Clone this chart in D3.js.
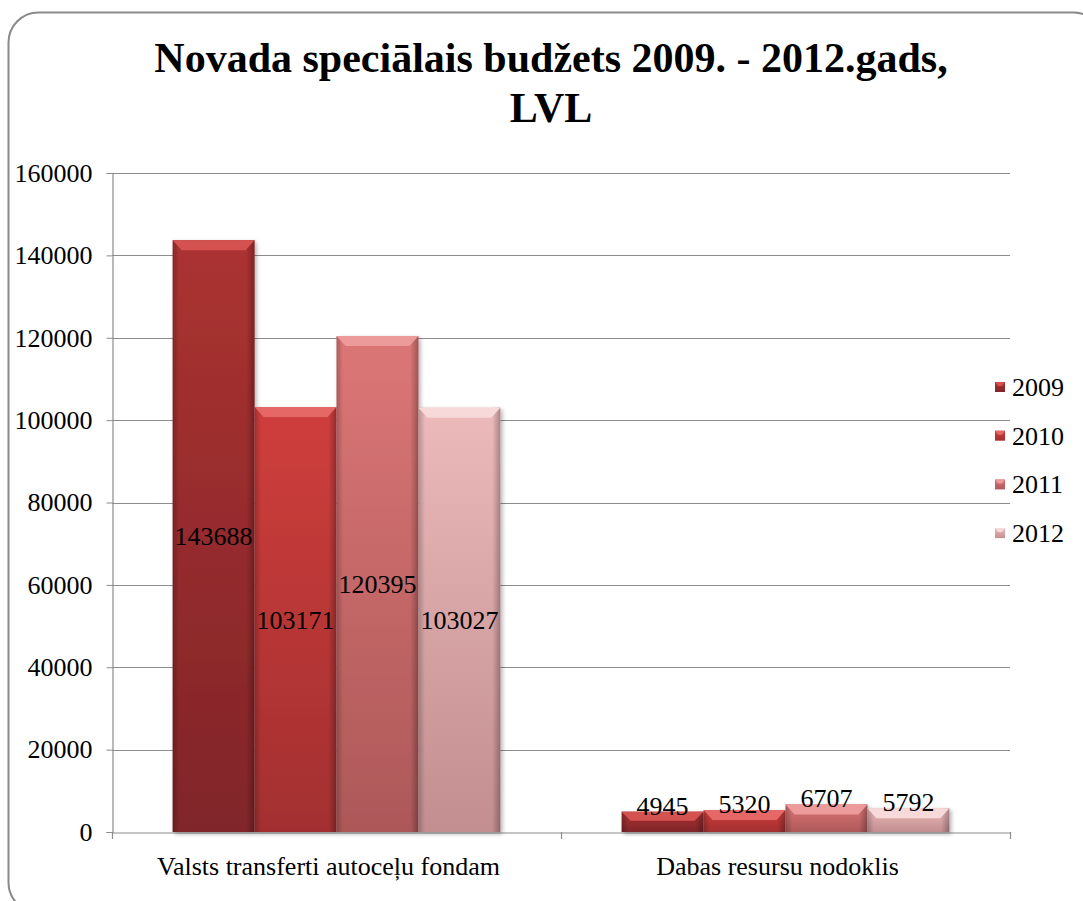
<!DOCTYPE html>
<html>
<head>
<meta charset="utf-8">
<script src="https://cdn.jsdelivr.net/npm/d3@7/dist/d3.min.js"></script>
<style>
  html, body { margin: 0; padding: 0; background: #fff; }
  svg { display: block; }
  svg text { font-family: "Liberation Serif", "Tinos", "Times New Roman", Times, "DejaVu Serif", serif !important; fill: #000; }
</style>
</head>
<body>
<svg id="chart" width="1083" height="901"></svg>
<script>
// ---- data ----
const categories = ["Valsts transferti autoceļu fondam", "Dabas resursu nodoklis"];
const years = ["2009", "2010", "2011", "2012"];
const values2009 = [143688, 4945];
const values2010 = [103171, 5320];
const values2011 = [120395, 6707];
const values2012 = [103027, 5792];
const yTicks = [0, 20000, 40000, 60000, 80000, 100000, 120000, 140000, 160000];
const titleLines = ["Novada speciālais budžets 2009. - 2012.gads,", "LVL"];

const seriesValues = [values2009, values2010, values2011, values2012];
const colors = [
  { top: "#ab3230", bottom: "#80252a", bevel: "#d45250" },
  { top: "#cf3e3c", bottom: "#a32f30", bevel: "#e66866" },
  { top: "#dc7676", bottom: "#ad5859", bevel: "#ec9a9a" },
  { top: "#ecbaba", bottom: "#c28e90", bevel: "#f7d9d9" }
];
const FONT = '"Liberation Serif", "Tinos", "Times New Roman", Times, "DejaVu Serif", serif';

const svg = d3.select("#chart");
const defs = svg.append("defs");

// frame
svg.append("rect")
  .attr("x", 8.5).attr("y", 12.5).attr("width", 1095).attr("height", 900)
  .attr("rx", 30).attr("ry", 30)
  .attr("fill", "#fff").attr("stroke", "#8a8a8a").attr("stroke-width", 2);

// gradients
colors.forEach((c, i) => {
  const g = defs.append("linearGradient").attr("id", "grad" + i)
    .attr("x1", 0).attr("y1", 0).attr("x2", 0).attr("y2", 1);
  g.append("stop").attr("offset", "0%").attr("stop-color", c.top);
  g.append("stop").attr("offset", "100%").attr("stop-color", c.bottom);
});
const side = defs.append("linearGradient").attr("id", "sideShade")
  .attr("x1", 0).attr("y1", 0).attr("x2", 1).attr("y2", 0);
side.append("stop").attr("offset", "0%").attr("stop-color", "#000").attr("stop-opacity", 0.22);
side.append("stop").attr("offset", "8%").attr("stop-color", "#000").attr("stop-opacity", 0.0);
side.append("stop").attr("offset", "90%").attr("stop-color", "#000").attr("stop-opacity", 0.0);
side.append("stop").attr("offset", "100%").attr("stop-color", "#000").attr("stop-opacity", 0.28);
const shadow = defs.append("filter").attr("id", "shadow")
  .attr("x", "-10%").attr("y", "-10%").attr("width", "130%").attr("height", "130%");
shadow.append("feDropShadow").attr("dx", 2).attr("dy", 2).attr("stdDeviation", 2)
  .attr("flood-color", "#000").attr("flood-opacity", 0.3);

// scales
const x = d3.scaleBand().domain(categories).range([112, 1010]).paddingInner(0).paddingOuter(0);
const xs = d3.scaleBand().domain(years).range([0, x.bandwidth()]).paddingInner(0).paddingOuter(0.74);
const y = d3.scaleLinear().domain([0, 160000]).range([832, 173]);

// gridlines
svg.append("g").selectAll("line").data(yTicks.filter(t => t > 0)).join("line")
  .attr("x1", 112).attr("x2", 1010)
  .attr("y1", d => Math.round(y(d)) + 0.5).attr("y2", d => Math.round(y(d)) + 0.5)
  .attr("stroke", "#8c8c8c").attr("stroke-width", 1.2);

// y axis
const yAxis = d3.axisLeft(y).tickValues(yTicks).tickSize(6).tickPadding(14).tickFormat(d3.format("d"));
const gy = svg.append("g").attr("transform", "translate(112.5,0)").call(yAxis)
  .attr("font-family", FONT);
gy.select(".domain").attr("stroke", "#8c8c8c").attr("stroke-width", 1.2);
gy.selectAll(".tick line").attr("stroke", "#8c8c8c");
gy.selectAll(".tick text").attr("font-size", 26).attr("fill", "#000");

// x axis
const gx = svg.append("g").attr("transform", "translate(0,832.5)")
  .call(d3.axisBottom(x).tickSize(0).tickPadding(24))
  .attr("font-family", FONT);
gx.select(".domain").attr("stroke", "#8c8c8c").attr("stroke-width", 1.2);
gx.selectAll(".tick text").attr("font-size", 26).attr("fill", "#000").attr("dx", -8);
// boundary ticks
svg.append("g").selectAll("line").data([112, 561, 1010]).join("line")
  .attr("x1", d => d + 0.5).attr("x2", d => d + 0.5).attr("y1", 832).attr("y2", 839)
  .attr("stroke", "#8c8c8c").attr("stroke-width", 1.2);

// bars
const barData = [];
categories.forEach((cat, ci) => {
  years.forEach((yr, si) => {
    barData.push({ cat, yr, si, v: seriesValues[si][ci] });
  });
});

const bars = svg.append("g").selectAll("g.bar").data(barData).join("g").attr("class", "bar");
bars.append("rect")
  .attr("x", d => x(d.cat) + xs(d.yr))
  .attr("y", d => y(d.v))
  .attr("width", xs.bandwidth())
  .attr("height", d => y(0) - y(d.v))
  .attr("fill", d => `url(#grad${d.si})`)
  .attr("filter", "url(#shadow)");
bars.append("rect")
  .attr("x", d => x(d.cat) + xs(d.yr))
  .attr("y", d => y(d.v))
  .attr("width", xs.bandwidth())
  .attr("height", d => y(0) - y(d.v))
  .attr("fill", "url(#sideShade)");
bars.append("path")
  .attr("d", d => {
    const x0 = x(d.cat) + xs(d.yr), x1 = x0 + xs.bandwidth(), t = y(d.v);
    const h = Math.min(10, (y(0) - t) * 0.45);
    return `M${x0},${t}L${x1},${t}L${x1 - 9},${t + h}L${x0 + 9},${t + h}Z`;
  })
  .attr("fill", d => colors[d.si].bevel);

// data labels
svg.append("g").attr("font-family", FONT).selectAll("text").data(barData).join("text")
  .attr("x", d => x(d.cat) + xs(d.yr) + xs.bandwidth() / 2)
  .attr("y", d => {
    const t = y(d.v), h = y(0) - t;
    return h > 40 ? t + h / 2 + 9 : t + 3;
  })
  .attr("text-anchor", "middle")
  .attr("font-size", 26)
  .text(d => d.v);

// legend
const legend = svg.append("g").attr("font-family", FONT).selectAll("g").data(years).join("g")
  .attr("transform", (d, i) => `translate(995,${387 + i * 48.7})`);
legend.append("rect").attr("x", 0).attr("y", -5).attr("width", 10).attr("height", 10)
  .attr("fill", (d, i) => `url(#grad${i})`);
legend.append("path").attr("d", "M0,-5L10,-5L7,-1L3,-1Z").attr("fill", (d, i) => colors[i].bevel);
legend.append("text").attr("x", 17).attr("y", 9).attr("font-size", 26).text(d => d);

// title
svg.append("g").attr("font-family", FONT).selectAll("text").data(titleLines).join("text")
  .attr("x", 551).attr("y", (d, i) => 72 + i * 50)
  .attr("text-anchor", "middle")
  .attr("font-size", 42).attr("font-weight", "bold")
  .text(d => d);
</script>
</body>
</html>
